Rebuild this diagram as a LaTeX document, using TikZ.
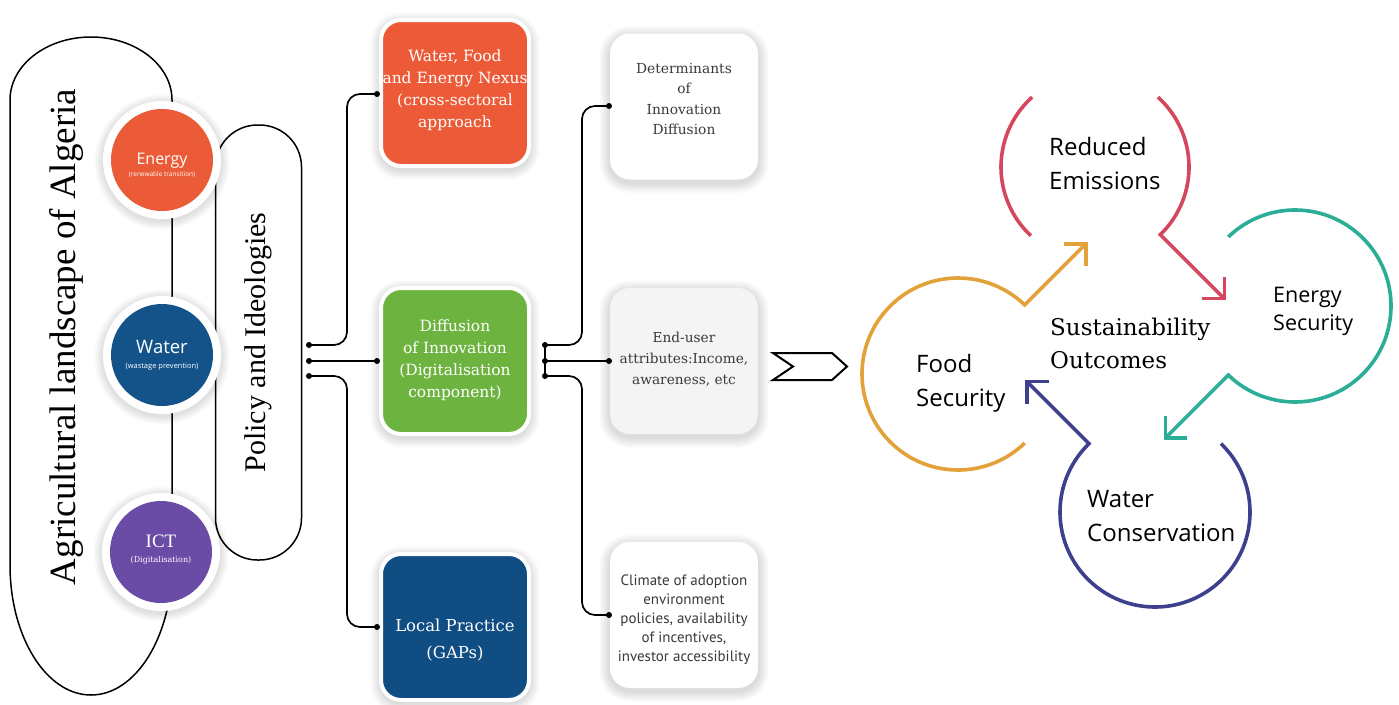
\documentclass[tikz,border=0pt]{standalone}
\usepackage{fontspec}
\setmainfont{DejaVu Serif}
\newfontfamily\titleserif{Liberation Serif}
\newfontfamily\labelsans{Open Sans}
\newfontfamily\notesans{PT Sans}
\usetikzlibrary{calc}

\definecolor{nexorange}{HTML}{EC5A38}
\definecolor{diffgreen}{HTML}{6CB33F}
\definecolor{localblue}{HTML}{0F4D83}
\definecolor{energyred}{HTML}{EB5B37}
\definecolor{waterblue}{HTML}{14538A}
\definecolor{ictpurple}{HTML}{6A4BA6}
\definecolor{emisred}{HTML}{D4475F}
\definecolor{energyteal}{HTML}{2BAD97}
\definecolor{waternavy}{HTML}{3E3F8D}
\definecolor{foodgold}{HTML}{E3A13A}
\definecolor{darkgrey}{HTML}{3A3A3A}
\definecolor{paleface}{HTML}{F4F4F4}

% soft shadow under a 148x146 tile centred on #1
\newcommand\tileshadow[1]{%
  \foreach \s in {1,...,7}{%
    \fill[black, opacity=0.018, rounded corners=(20+1.5*\s)*1pt]
      ($(#1)+(-74-1.5*\s, 76+1.5*\s)$) rectangle ($(#1)+(74+1.5*\s, -70-1.5*\s)$);
  }}
% soft shadow under a round badge centred on #1
\newcommand\badgeshadow[1]{%
  \foreach \s in {1,...,6}{%
    \fill[black, opacity=0.02] ($(#1)+(0,2)$) circle[radius=(59+1.4*\s)*1pt];
  }}

\begin{document}
\begin{tikzpicture}[x=1pt, y=-1pt,
  dot/.style={circle, fill=black, inner sep=0pt, minimum size=6pt},
  conn/.style={line width=1.7pt, rounded corners=13pt},
  tile/.style={rectangle, rounded corners=20pt, minimum width=148pt, minimum height=146pt, inner sep=0pt},
  coltile/.style={tile, draw=white, line width=4pt},
  tiletext/.style={align=center, inner sep=0pt, text=white, font=\fontsize{15.5}{22}\selectfont},
  greytext/.style={align=center, inner sep=0pt, text=darkgrey, font=\fontsize{13.8}{20.5}\selectfont},
  halo/.style={circle, fill=white, minimum size=118pt, inner sep=0pt},
  disc/.style={circle, minimum size=102pt, inner sep=0pt},
  cyc/.style={line width=3.6pt},
  outcome/.style={font=\labelsans\fontsize{24}{34}\selectfont, anchor=base west, align=left, inner sep=0pt},
]
\fill[white] (0,0) rectangle (1399,704);
\useasboundingbox (0,0) rectangle (1399,704);

% ---------- landscape frame ----------
\draw[line width=1.5pt] (10,100) arc[start angle=180, end angle=0, x radius=81pt, y radius=63pt]
  -- (172,565) arc[start angle=0, end angle=-180, x radius=81pt, y radius=130pt] -- cycle;
\node[rotate=90, font=\titleserif\fontsize{37}{40}\selectfont, inner sep=0pt] (landscape) at (66,337)
  {Agricultural landscape of Algeria};

% ---------- policy frame ----------
\node[draw, line width=1.5pt, rounded corners=42pt, rotate=90, minimum width=435pt, minimum height=86pt,
  font=\titleserif\fontsize{30}{32}\selectfont] (policy) at (258.5,342.5) {Policy and Ideologies};

% ---------- resource badges ----------
\coordinate (energyc) at (162,160);
\coordinate (waterc) at (162,355);
\coordinate (ictc) at (161,552);
\badgeshadow{energyc}
\badgeshadow{waterc}
\badgeshadow{ictc}
\node[halo] (energyhalo) at (energyc) {};
\node[halo] (waterhalo) at (waterc) {};
\node[halo] (icthalo) at (ictc) {};
\node[disc, fill=energyred] (energy) at (energyc) {};
\node[disc, fill=waterblue] (water) at (waterc) {};
\node[disc, fill=ictpurple] (ict) at (ictc) {};
\node[align=center, text=white, inner sep=0pt, font=\labelsans\fontsize{16}{12}\selectfont] (energytext) at (162,165)
  {Energy\\{\fontsize{6.5}{12}\selectfont (renewable transition)}};
\node[align=center, text=white, inner sep=0pt, font=\labelsans\fontsize{18.5}{15}\selectfont] (watertext) at (162,355)
  {Water\\{\fontsize{7.5}{15}\selectfont (wastage prevention)}};
\node[align=center, text=white, inner sep=0pt, font=\titleserif\fontsize{19}{15}\selectfont] (icttext) at (161,550)
  {ICT\\{\rmfamily\fontsize{8}{15}\selectfont (Digitalisation)}};

% ---------- middle tiles ----------
\coordinate (nexusc) at (455,93);
\coordinate (diffc) at (455,361);
\coordinate (localc) at (455,627);
\tileshadow{nexusc}
\tileshadow{diffc}
\tileshadow{localc}
\node[coltile, fill=nexorange] (nexus) at (nexusc) {};
\node[coltile, fill=diffgreen] (diff) at (diffc) {};
\node[coltile, fill=localblue] (local) at (localc) {};
\node[tiletext] (nexustext) at (455,90) {Water, Food\\and Energy Nexus\\(cross-sectoral\\approach};
\node[tiletext] (difftext) at (455,360) {Diffusion\\of Innovation\\(Digitalisation\\component)};
\node[tiletext, font=\fontsize{16.5}{27}\selectfont] (localtext) at (455,640) {Local Practice\\(GAPs)};

% ---------- determinant tiles ----------
\coordinate (detc) at (684,106.5);
\coordinate (userc) at (684,361);
\coordinate (climc) at (684,615);
\tileshadow{detc}
\tileshadow{userc}
\tileshadow{climc}
\node[tile, fill=white] (det) at (detc) {};
\node[tile, fill=paleface] (user) at (userc) {};
\node[tile, fill=white] (clim) at (climc) {};
\node[greytext] (dettext) at (684,99) {Determinants\\of\\Innovation\\Diffusion};
\node[greytext, font=\fontsize{13.7}{21}\selectfont] (usertext) at (684,359) {End-user\\attributes:Income,\\awareness, etc};
\node[greytext, font=\notesans\fontsize{15}{19}\selectfont] (climtext) at (684,619.5)
  {Climate of adoption\\environment\\policies, availability\\of incentives,\\investor accessibility};

% ---------- connectors: policy -> tiles ----------
\node[dot] (pa) at (309,345) {};
\node[dot] (pb) at (309,361) {};
\node[dot] (pc) at (309,376) {};
\node[dot] (nexin) at (377,94) {};
\node[dot] (diffin) at (377,361) {};
\node[dot] (localin) at (377,627) {};
\draw[conn] (pa.center) -| ([xshift=-30pt]nexin.center) -- (nexin.center);
\draw[conn] (pb.center) -- (diffin.center);
\draw[conn] (pc.center) -| ([xshift=-30pt]localin.center) -- (localin.center);

% ---------- connectors: diffusion -> determinants ----------
\node[dot] (qa) at (545,345) {};
\node[dot] (qb) at (545,361) {};
\node[dot] (qc) at (545,376) {};
\node[dot] (detin) at (609,106) {};
\node[dot] (userin) at (609,361) {};
\node[dot] (climin) at (609,615) {};
\draw[line width=1.7pt] (qa.center) -- (qc.center);
\draw[conn] (qa.center) -| ([xshift=-27pt]detin.center) -- (detin.center);
\draw[conn] (qb.center) -- (userin.center);
\draw[conn] (qc.center) -| ([xshift=-27pt]climin.center) -- (climin.center);

% ---------- chevron ----------
\draw[line width=2pt, line join=miter] (773,353) -- (832,353) -- (847,366.5) -- (832,380) -- (773,380) -- (793,366.5) -- cycle;

% ---------- sustainability cycle ----------
\coordinate (foodc) at (958,374);
\coordinate (emisc) at (1095,167);
\coordinate (tealc) at (1295,306);
\coordinate (navyc) at (1155,512);

\draw[cyc, foodgold] ($(foodc)+(-46:96pt)$) arc[start angle=-46, end angle=-314, radius=96pt]
  -- ++(61,-61) coordinate (foodtip);
\draw[cyc, foodgold] ([xshift=-22pt]foodtip) -- (foodtip) -- ([yshift=-22pt]foodtip);

\draw[cyc, emisred] ($(emisc)+(132:94pt)$) arc[start angle=132, end angle=227, radius=94pt];
\draw[cyc, emisred] ($(emisc)+(48:94pt)$) arc[start angle=48, end angle=-46, radius=94pt]
  -- ++(64,64) coordinate (emistip);
\draw[cyc, emisred] ([xshift=-22pt]emistip) -- (emistip) -- ([yshift=22pt]emistip);

\draw[cyc, energyteal] ($(tealc)+(134:96pt)$) arc[start angle=134, end angle=-134, radius=96pt]
  -- ++(-63,63) coordinate (tealtip);
\draw[cyc, energyteal] ([yshift=22pt]tealtip) -- (tealtip) -- ([xshift=22pt]tealtip);

\draw[cyc, waternavy] ($(navyc)+(46:95pt)$) arc[start angle=46, end angle=-226, radius=95pt]
  -- ++(-62,-62) coordinate (navytip);
\draw[cyc, waternavy] ([xshift=22pt]navytip) -- (navytip) -- ([yshift=-22pt]navytip);

% labels: the base anchor of a two-line node sits on its last line
\node[outcome] (emislabel) at (1049,189) {Reduced\\Emissions};
\node[outcome, font=\labelsans\fontsize{21.5}{28}\selectfont] (teallabel) at (1273,330) {Energy\\Security};
\node[outcome] (foodlabel) at (916,406) {Food\\Security};
\node[outcome] (waterlabel) at (1087,541) {Water\\Conservation};
\node[outcome, font=\rmfamily\fontsize{23}{33}\selectfont] (centrelabel) at (1050,368.5) {Sustainability\\Outcomes};
\end{tikzpicture}
\end{document}
